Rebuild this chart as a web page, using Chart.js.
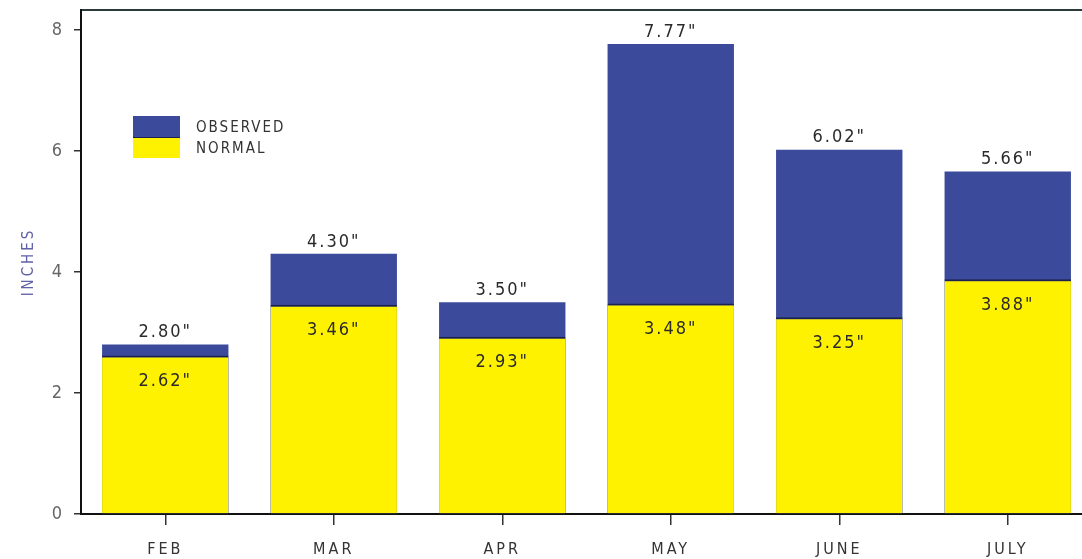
<!DOCTYPE html>
<html>
<head>
<meta charset="utf-8">
<script src="https://cdn.jsdelivr.net/npm/chart.js@4.4.1/dist/chart.umd.min.js"></script>
<style>
  html, body { margin: 0; padding: 0; background: #fff; overflow: hidden; }
  #wrap { position: relative; width: 1092px; height: 559px; }
</style>
</head>
<body>
<div id="wrap"><canvas id="chart"></canvas></div>
<script>
// Chart data
const MONTHS = ['FEB', 'MAR', 'APR', 'MAY', 'JUNE', 'JULY'];
const OBSERVED = [2.80, 4.30, 3.50, 7.77, 6.02, 5.66];
const NORMAL = [2.62, 3.46, 2.93, 3.48, 3.25, 3.88];
const Y_TICKS = [0, 2, 4, 6, 8];

const FONT = '"DejaVu Sans Condensed", "Liberation Sans Narrow", "DejaVu Sans", sans-serif';
const BLUE = '#3b4a9b';
const YELLOW = '#fff200';

// Value labels above / inside bars
const valueLabels = {
  id: 'valueLabels',
  afterDatasetsDraw(chart) {
    const ctx = chart.ctx;
    ctx.save();
    ctx.font = '18px ' + FONT;
    ctx.letterSpacing = '2px';
    ctx.fillStyle = '#2a2a2a';
    ctx.textAlign = 'center';
    const obs = chart.getDatasetMeta(1).data;
    const nor = chart.getDatasetMeta(0).data;
    obs.forEach((bar, i) => {
      ctx.textBaseline = 'bottom';
      ctx.fillText(OBSERVED[i].toFixed(2) + '"', bar.x, bar.y - 3);
    });
    nor.forEach((bar, i) => {
      ctx.textBaseline = 'middle';
      ctx.fillText(NORMAL[i].toFixed(2) + '"', bar.x, bar.y + 26);
    });
    ctx.restore();
  }
};

// Legend with two stacked swatches
const stackedLegend = {
  id: 'stackedLegend',
  afterDraw(chart) {
    const ctx = chart.ctx;
    const x = chart.chartArea.left + 52;
    const y = 116;
    ctx.save();
    ctx.fillStyle = BLUE;
    ctx.fillRect(x, y, 47, 21);
    ctx.fillStyle = '#1c2250';
    ctx.fillRect(x, y + 21, 47, 1);
    ctx.fillStyle = YELLOW;
    ctx.fillRect(x, y + 22, 47, 20);
    ctx.font = '15px ' + FONT;
    ctx.letterSpacing = '2px';
    ctx.fillStyle = '#333';
    ctx.textBaseline = 'middle';
    ctx.fillText(chart.data.datasets[1].label, x + 63, y + 12);
    ctx.fillText(chart.data.datasets[0].label, x + 63, y + 33);
    ctx.restore();
  }
};

// Letter spacing for axis text
const spacing = {
  id: 'spacing',
  beforeDraw(chart) { chart.ctx.letterSpacing = '3px'; }
};

new Chart(document.getElementById('chart'), {
  type: 'bar',
  data: {
    labels: MONTHS,
    datasets: [
      {
        label: 'NORMAL',
        data: NORMAL,
        backgroundColor: YELLOW,
        borderColor: '#1c2250',
        borderWidth: { top: 2, left: 0, right: 0, bottom: 0 },
        borderSkipped: false,
        grouped: false,
        barPercentage: 0.75,
        categoryPercentage: 1
      },
      {
        label: 'OBSERVED',
        data: OBSERVED,
        backgroundColor: BLUE,
        borderWidth: 0,
        grouped: false,
        barPercentage: 0.75,
        categoryPercentage: 1
      }
    ]
  },
  options: {
    responsive: true,
    maintainAspectRatio: false,
    animation: false,
    layout: { padding: 0 },
    plugins: {
      legend: { display: false },
      tooltip: { enabled: false },
      title: { display: false }
    },
    scales: {
      x: {
        position: 'bottom',
        grid: { display: true, drawOnChartArea: false, offset: false, tickLength: 11, color: '#333', lineWidth: 1.5 },
        border: { display: true, color: '#111', width: 2 },
        ticks: { color: '#333', padding: 15, font: { family: FONT, size: 16 } },
        afterFit(s) { s.height = 45; s.paddingLeft = 0; s.paddingRight = 0; }
      },
      x2: {
        position: 'top',
        labels: MONTHS,
        grid: { display: false },
        border: { display: true, color: '#2b3a3a', width: 2 },
        ticks: { display: false },
        afterFit(s) { s.height = 10; }
      },
      y: {
        min: 0,
        max: 8.33,
        afterBuildTicks(s) { s.ticks = Y_TICKS.map(v => ({ value: v })); },
        grid: { display: true, drawOnChartArea: false, tickLength: 7, color: '#333', lineWidth: 1.5 },
        border: { display: true, color: '#111', width: 2 },
        ticks: { color: '#666', padding: 9, font: { family: FONT, size: 18 } },
        title: {
          display: true,
          text: 'INCHES',
          color: '#6262a8',
          padding: { top: 20, bottom: 12 },
          font: { family: FONT, size: 15 }
        },
        afterFit(s) { s.width = 81; s.paddingTop = 0; s.paddingBottom = 0; }
      }
    }
  },
  plugins: [spacing, valueLabels, stackedLegend]
});
</script>
</body>
</html>
